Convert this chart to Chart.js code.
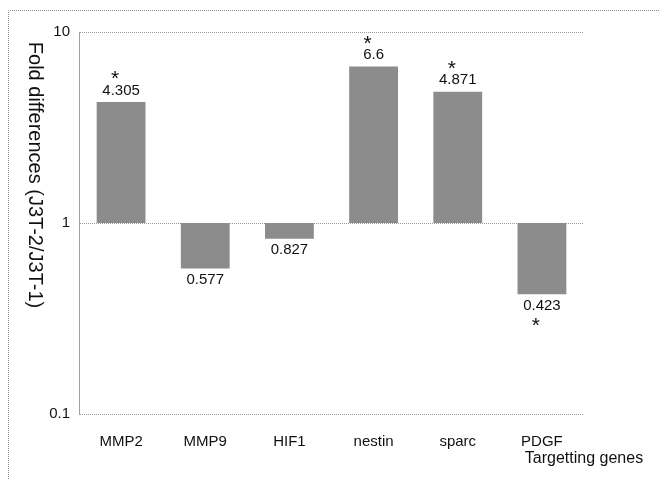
<!DOCTYPE html>
<html>
<head>
<meta charset="utf-8">
<script src="https://cdn.jsdelivr.net/npm/chart.js@4/dist/chart.umd.min.js"></script>
<style>
  html, body { margin: 0; padding: 0; background: #fff; }
  #wrap { width: 660px; height: 479px; position: relative; }
</style>
</head>
<body>
<div id="wrap"><canvas id="foldChart"></canvas></div>
<script>
// data
var genes = ["MMP2", "MMP9", "HIF1", "nestin", "sparc", "PDGF"];
var foldValues = [4.305, 0.577, 0.827, 6.6, 4.871, 0.423];
var valueLabels = ["4.305", "0.577", "0.827", "6.6", "4.871", "0.423"];
var significant = [true, false, false, true, true, true];
var yTicks = [0.1, 1, 10];
var yTickLabels = ["0.1", "1", "10"];

var FONT = "'Liberation Sans', Arial, sans-serif";

// bars float from 1 (no change) to the fold value
var barData = foldValues.map(v => [1, v]);

var labelPlugin = {
  id: "labelPlugin",
  afterDatasetsDraw(chart) {
    var ctx = chart.ctx;
    var meta = chart.getDatasetMeta(0);
    ctx.save();
    ctx.fillStyle = "#111";
    ctx.textAlign = "center";
    meta.data.forEach((bar, i) => {
      var up = foldValues[i] >= 1;
      var x = bar.x;
      if (up) {
        var top = Math.min(bar.y, bar.base);
        ctx.font = "15px " + FONT;
        ctx.textBaseline = "bottom";
        ctx.fillText(valueLabels[i], x, top - 4);
        if (significant[i]) {
          ctx.font = "21px " + FONT;
          ctx.textBaseline = "bottom";
          ctx.fillText("*", x - 6, top - 12);
        }
      } else {
        var bottom = Math.max(bar.y, bar.base);
        ctx.font = "15px " + FONT;
        ctx.textBaseline = "top";
        ctx.fillText(valueLabels[i], x, bottom + 4);
        if (significant[i]) {
          ctx.font = "21px " + FONT;
          ctx.textBaseline = "top";
          ctx.fillText("*", x - 6, bottom + 21);
        }
      }
    });
    ctx.restore();
  },
  afterDraw(chart) {
    var ctx = chart.ctx;
    ctx.save();
    // outer frame (left and top edges)
    ctx.strokeStyle = "#8a8a8a";
    ctx.lineWidth = 1;
    ctx.setLineDash([1, 1]);
    ctx.beginPath();
    ctx.moveTo(8.5, 479);
    ctx.lineTo(8.5, 10.5);
    ctx.lineTo(660, 10.5);
    ctx.stroke();
    ctx.setLineDash([]);
    // y axis title, reading top to bottom
    ctx.fillStyle = "#111";
    ctx.font = "20px " + FONT;
    ctx.textAlign = "center";
    ctx.textBaseline = "middle";
    ctx.translate(35, 175);
    ctx.rotate(Math.PI / 2);
    ctx.fillText("Fold differences (J3T-2/J3T-1)", 0, 0);
    ctx.restore();
    // x axis title
    ctx.save();
    ctx.fillStyle = "#111";
    ctx.font = "16px " + FONT;
    ctx.textAlign = "center";
    ctx.textBaseline = "middle";
    ctx.fillText("Targetting genes", 584, 459);
    ctx.restore();
  }
};

new Chart(document.getElementById("foldChart"), {
  type: "bar",
  data: {
    labels: genes,
    datasets: [{
      data: barData,
      backgroundColor: "#8c8c8c",
      borderWidth: 0,
      barPercentage: 0.58,
      categoryPercentage: 1.0
    }]
  },
  options: {
    responsive: true,
    maintainAspectRatio: false,
    animation: false,
    layout: { padding: { left: 0, right: 76, top: 32, bottom: 0 } },
    plugins: {
      legend: { display: false },
      tooltip: { enabled: false }
    },
    scales: {
      x: {
        grid: { display: false },
        border: { display: false },
        ticks: {
          color: "#111",
          font: { family: FONT, size: 15 },
          padding: 11
        },
        afterFit(scale) { scale.height = 65; }
      },
      y: {
        type: "logarithmic",
        min: 0.1,
        max: 10,
        afterBuildTicks(scale) {
          scale.ticks = yTicks.map(v => ({ value: v }));
        },
        afterFit(scale) { scale.width = 79; },
        grid: {
          color: "#9a9a9a",
          lineWidth: 1,
          drawTicks: false,
          borderDash: [2, 2]
        },
        border: { display: true, color: "#a0a0a0", dash: [1, 1] },
        ticks: {
          color: "#111",
          font: { family: FONT, size: 15 },
          padding: 9,
          callback: function (value) {
            var i = yTicks.indexOf(value);
            return i >= 0 ? yTickLabels[i] : "";
          }
        }
      }
    }
  },
  plugins: [labelPlugin]
});
</script>
</body>
</html>
